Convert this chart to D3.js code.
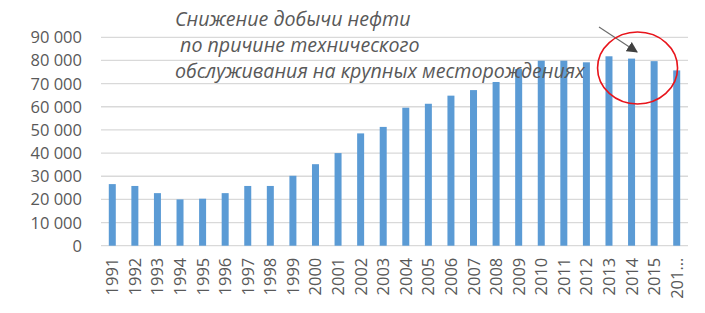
<!DOCTYPE html>
<html>
<head>
<meta charset="utf-8">
<script src="https://cdn.jsdelivr.net/npm/d3@7"></script>
<style>
  body { margin: 0; background: #fff; }
  text { font-family: "Open Sans", sans-serif; }
</style>
</head>
<body>
<div id="chart"></div>
<script>
const width = 705;
const height = 313;

// oil output by year
const years = ["1991", "1992", "1993", "1994", "1995", "1996", "1997", "1998", "1999", "2000",
  "2001", "2002", "2003", "2004", "2005", "2006", "2007", "2008", "2009", "2010",
  "2011", "2012", "2013", "2014", "2015", "2016"];
const output = [26600, 25800, 22700, 20000, 20300, 22700, 25800, 25800, 30200, 35200,
  40000, 48500, 51300, 59600, 61300, 64800, 67200, 70700, 76300, 79900,
  79900, 79200, 81800, 80800, 79700, 75700];
const yTicks = [0, 10000, 20000, 30000, 40000, 50000, 60000, 70000, 80000, 90000];
const note = ["Снижение добычи нефти", " по причине технического", "обслуживания на крупных месторождениях"];

const margin = { left: 101, right: 17, top: 37.3, bottom: 67.3 };

const svg = d3.select("#chart")
  .append("svg")
  .attr("width", width)
  .attr("height", height);

const x = d3.scaleBand()
  .domain(years)
  .range([margin.left, width - margin.right])
  .paddingInner(0.69)
  .paddingOuter(0.345);

const y = d3.scaleLinear()
  .domain([0, 90000])
  .range([height - margin.bottom, margin.top]);

const fmt = v => d3.format(",")(v).replace(/,/g, " ");

// grid
svg.append("g")
  .selectAll("line")
  .data(yTicks)
  .enter()
  .append("line")
  .attr("x1", margin.left)
  .attr("x2", width - margin.right)
  .attr("y1", d => y(d))
  .attr("y2", d => y(d))
  .attr("stroke", "#d9d9d9")
  .attr("stroke-width", 1.3);

// y labels
svg.append("g")
  .selectAll("text")
  .data(yTicks)
  .enter()
  .append("text")
  .attr("x", 82)
  .attr("y", d => y(d) + 6)
  .attr("text-anchor", "end")
  .attr("fill", "#595959")
  .style("font-size", "16.5px")
  .text(d => fmt(d));

// bars
svg.append("g")
  .selectAll("rect")
  .data(output)
  .enter()
  .append("rect")
  .attr("x", (d, i) => x(years[i]))
  .attr("y", d => y(d))
  .attr("width", x.bandwidth())
  .attr("height", d => y(0) - y(d))
  .attr("fill", "#5b9bd5");

// x labels (last one gets cut off like in excel)
svg.append("g")
  .selectAll("text")
  .data(years)
  .enter()
  .append("text")
  .attr("transform", d => `translate(${x(d) + x.bandwidth() / 2 + 6},${y(0) + 12}) rotate(-90)`)
  .attr("text-anchor", "end")
  .attr("fill", "#595959")
  .style("font-size", "16.5px")
  .text((d, i) => i === years.length - 1 ? d.slice(0, 3) + "…" : d);

// annotation text
const noteG = svg.append("g")
  .attr("fill", "#595959")
  .style("font-style", "italic");

const lines = noteG.selectAll("text")
  .data(note)
  .enter()
  .append("text")
  .attr("x", 175)
  .attr("y", (d, i) => 26 + i * 26)
  .style("font-size", "17px")
  .style("white-space", "pre")
  .attr("xml:space", "preserve")
  .text(d => d);

// fit the long line to ~410px
const w = lines.nodes()[2].getComputedTextLength();
lines.style("font-size", (17 * 410 / w) + "px");

// arrow
svg.append("defs")
  .append("marker")
  .attr("id", "head")
  .attr("viewBox", "0 0 10 10")
  .attr("refX", 9)
  .attr("refY", 5)
  .attr("markerUnits", "userSpaceOnUse")
  .attr("markerWidth", 11)
  .attr("markerHeight", 11)
  .attr("orient", "auto")
  .append("path")
  .attr("d", "M0,0L10,5L0,10Z")
  .attr("fill", "#404040");

svg.append("line")
  .attr("x1", 599)
  .attr("y1", 27)
  .attr("x2", 637)
  .attr("y2", 52)
  .attr("stroke", "#6a6a6a")
  .attr("stroke-width", 1.1)
  .attr("marker-end", "url(#head)");

// red ring round 2013-2015
svg.append("ellipse")
  .attr("cx", x("2014") + x.bandwidth() / 2 + 6)
  .attr("cy", 68)
  .attr("rx", 40)
  .attr("ry", 36)
  .attr("fill", "none")
  .attr("stroke", "#e8141b")
  .attr("stroke-width", 1.6);
</script>
</body>
</html>
